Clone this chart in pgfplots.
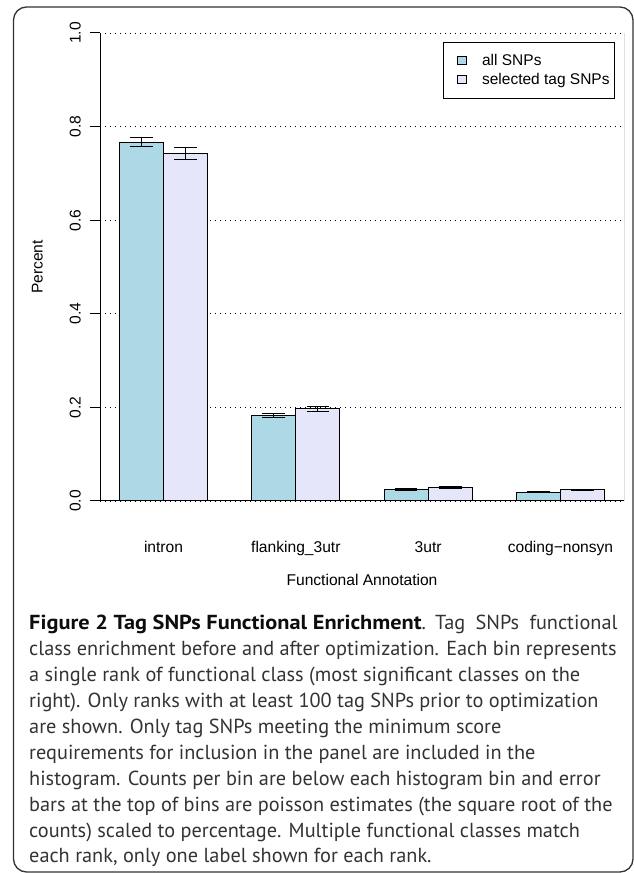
\documentclass[border=0pt]{standalone}
\usepackage{pgfplots}
\pgfplotsset{compat=1.18}
\usepackage{fontspec}
\setmainfont{Liberation Sans}
\newfontfamily\capfont{PT Sans}
\definecolor{allsnp}{HTML}{ADD8E6}
\definecolor{tagsnp}{HTML}{E6E6FA}

\begin{document}
\begin{tikzpicture}[x=1pt,y=1pt]
\useasboundingbox (0,0) rectangle (634,873);
% rounded frame round the figure
\draw[line width=1.3pt, black!80, rounded corners=13pt] (13.5,1) rectangle (633,866);

\begin{axis}[
  at={(100pt,372pt)}, anchor=south west,
  scale only axis, width=524pt, height=468pt,
  xmin=0.56, xmax=12.44, ymin=0, ymax=1,
  axis x line*=bottom, axis y line*=left,
  axis line style={line width=1pt},
  tick align=outside, major tick length=10pt,
  ytick={0,0.2,0.4,0.6,0.8,1},
  yticklabel style={/pgf/number format/fixed, /pgf/number format/fixed zerofill,
    /pgf/number format/precision=1, /pgf/number format/assume math mode=true,
    rotate=90, anchor=south, inner sep=0pt},
  yticklabel shift=9pt,
  ytick style={black, line width=1pt},
  xtick={2,5,8,11},
  xticklabels={intron, flanking\_3utr, 3utr, coding−nonsyn},
  xtick style={draw=none},
  xticklabel style={anchor=base, inner sep=0pt},
  xticklabel shift=42pt,
  tick label style={font=\fontsize{15.6}{18}\selectfont},
  label style={font=\fontsize{15.6}{18}\selectfont},
  ymajorgrids,
  grid style={black, line width=0.6pt, dash pattern=on 0.8pt off 4.2pt},
  xlabel={Functional Annotation},
  xlabel style={at={(axis description cs:0.5,-0.1816)}, anchor=base, inner sep=0pt},
  ylabel={Percent},
  ylabel style={at={(axis description cs:-0.1088,0.5)}, anchor=south, inner sep=0pt},
  legend cell align=left,
  legend image code/.code={
    \path[draw=none, fill=none] (0pt,0pt) -- (19pt,0pt);
    \draw[#1, draw=black, line width=1pt] (9.5pt,-4pt) rectangle (18.5pt,4pt);},
  legend style={at={(axis description cs:1,1)}, anchor=north east,
    xshift=-9pt, yshift=-9pt, draw=black, line width=0.8pt,
    font=\fontsize{15.5}{18}\selectfont,
    inner xsep=5pt, inner ysep=11pt, row sep=4pt, column sep=15pt,
    nodes={inner sep=0pt, text height=12pt, text depth=3pt}},
]
\addplot[ybar, bar width=1, bar shift=0pt, fill=allsnp, draw=black, line width=1pt,
  error bars/.cd, y dir=both, y explicit,
  error mark options={rotate=90, mark size=11.3pt, line width=1pt},
  error bar style={line width=1pt}]
  coordinates {
    (1.5,0.767) +- (0,0.0096)
    (4.5,0.1825) +- (0,0.005)
    (7.5,0.025) +- (0,0.0018)
    (10.5,0.0186) +- (0,0.0015)
  };
\addlegendentry{all SNPs}
\addplot[ybar, bar width=1, bar shift=0pt, fill=tagsnp, draw=black, line width=1pt,
  error bars/.cd, y dir=both, y explicit,
  error mark options={rotate=90, mark size=11.3pt, line width=1pt},
  error bar style={line width=1pt}]
  coordinates {
    (2.5,0.7429) +- (0,0.0124)
    (5.5,0.1968) +- (0,0.0058)
    (8.5,0.0285) +- (0,0.002)
    (11.5,0.0235) +- (0,0.0018)
  };
\addlegendentry{selected tag SNPs}
\draw[line width=1pt] (rel axis cs:1,0) -- (rel axis cs:1,1);
\end{axis}

\node[anchor=base west, inner sep=0pt, align=left, text=black!80,
  font=\capfont\fontsize{20.3}{25.9}\selectfont] at (29,10)
{\textcolor{black!95}{\scalebox{1.1}[1]{\bfseries Figure 2 Tag SNPs Functional Enrichment}}.\hspace{2pt}
{\spaceskip=1.9\fontdimen2\font Tag SNPs functional}\\
class enrichment before and after optimization. Each bin represents\\
a single rank of functional class (most significant classes on the\\
right). Only ranks with at least 100 tag SNPs prior to optimization\\
are shown. Only tag SNPs meeting the minimum score\\
requirements for inclusion in the panel are included in the\\
histogram. Counts per bin are below each histogram bin and error\\
bars at the top of bins are poisson estimates (the square root of the\\
counts) scaled to percentage. Multiple functional classes match\\
each rank, only one label shown for each rank.};
\end{tikzpicture}
\end{document}
